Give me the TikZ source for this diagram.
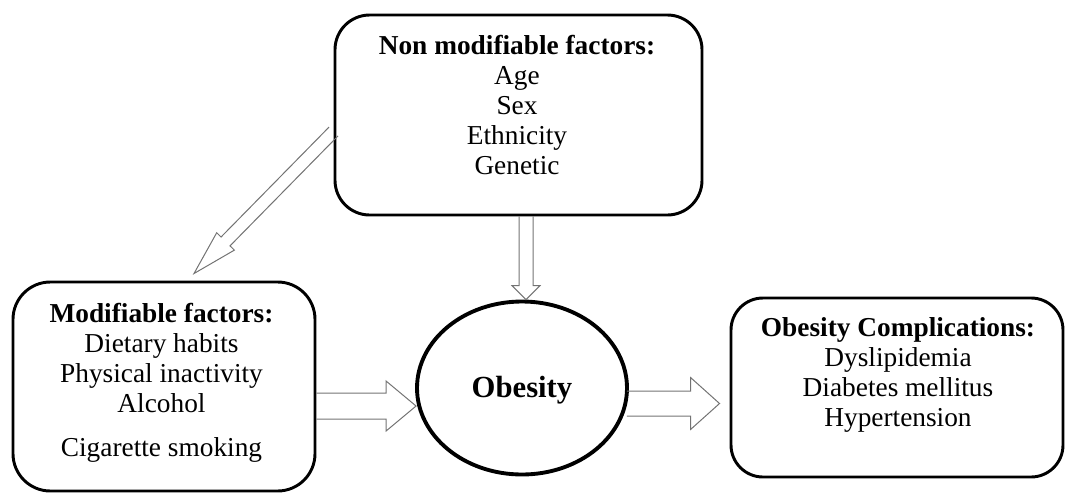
\documentclass[tikz,border=0pt]{standalone}
\usepackage{fontspec}
\setmainfont{Liberation Serif}
\usetikzlibrary{calc,shapes.geometric}
\tikzset{
  box/.style={draw=black, line width=2.2pt, rounded corners=26pt, fill=white, inner sep=0pt},
  ell/.style={draw=black, line width=2.9pt, ellipse, fill=white, inner sep=0pt},
  txt/.style={align=center, inner sep=0pt, anchor=north, font=\fontsize{20.5}{22.5}\selectfont},
  blockarr/.style={draw=black!55, line width=0.75pt, line join=miter},
}
\newcommand{\blockarrow}[5]{%
  \path let \p1=($(#2)-(#1)$) in \pgfextra{%
    \pgfmathsetmacro\baang{atan2(\y1,\x1)}%
    \pgfmathsetmacro\balen{veclen(\x1,\y1)}%
    \global\let\baang\baang \global\let\balen\balen};
  \draw[blockarr, shift={(#1)}, rotate=\baang]
    (0pt,{#3*0.75pt}) -- ({\balen pt-#5*0.75pt},{#3*0.75pt})
    -- ({\balen pt-#5*0.75pt},{#4*0.75pt}) -- (\balen pt,0pt)
    -- ({\balen pt-#5*0.75pt},{-#4*0.75pt}) -- ({\balen pt-#5*0.75pt},{-#3*0.75pt})
    -- (0pt,{-#3*0.75pt});
}
\begin{document}
\begin{tikzpicture}[x=0.75pt, y=-0.75pt]
\useasboundingbox (0,0) rectangle (1066,493);
% boxes
\node[box, minimum width=275.25pt, minimum height=150pt] (top) at (518.5,115) {};
\node[box, minimum width=226.5pt, minimum height=156.75pt, rounded corners=28pt] (mod) at (164,386.5) {};
\node[box, minimum width=249pt, minimum height=134.25pt, rounded corners=24pt] (comp) at (897,387.5) {};
\node[ell, minimum width=157.5pt, minimum height=129.75pt] (ob) at (522,388) {};
% texts
\node[txt] (toptxt) at (517,35) {\textbf{Non modifiable factors:}\\Age\\Sex\\Ethnicity\\Genetic};
\node[txt] (modtxt) at (161.5,303) {\textbf{Modifiable factors:}\\Dietary habits\\Physical inactivity\\Alcohol\\[10.5pt]Cigarette smoking};
\node[txt] (comptxt) at (898,317) {\textbf{Obesity Complications:}\\Dyslipidemia\\Diabetes mellitus\\Hypertension};
\node[txt, anchor=base, font=\fontsize{23}{25}\selectfont] (obtxt) at (522,397) {\textbf{Obesity}};
% arrow end points
\coordinate (d1) at ($(top.west)+(0,16.5)$);
\coordinate (d2) at ($(mod.north)+(30,-7)$);
\coordinate (v1) at ($(top.south)+(7.5,0)$);
\coordinate (v2) at ($(ob.north)+(4,0)$);
\coordinate (l1) at ($(mod.east)+(0,19.5)$);
\coordinate (l2) at ($(ob.west)+(1,18)$);
\coordinate (r1) at ($(ob.east)+(-2,15.5)$);
\coordinate (r2) at ($(comp.west)+(-10,16)$);
\blockarrow{d1}{d2}{6.3}{12.4}{45}
\blockarrow{v1}{v2}{7}{14}{14}
\blockarrow{l1}{l2}{13}{25}{30}
\blockarrow{r1}{r2}{12.5}{26}{29}
\end{tikzpicture}
\end{document}
